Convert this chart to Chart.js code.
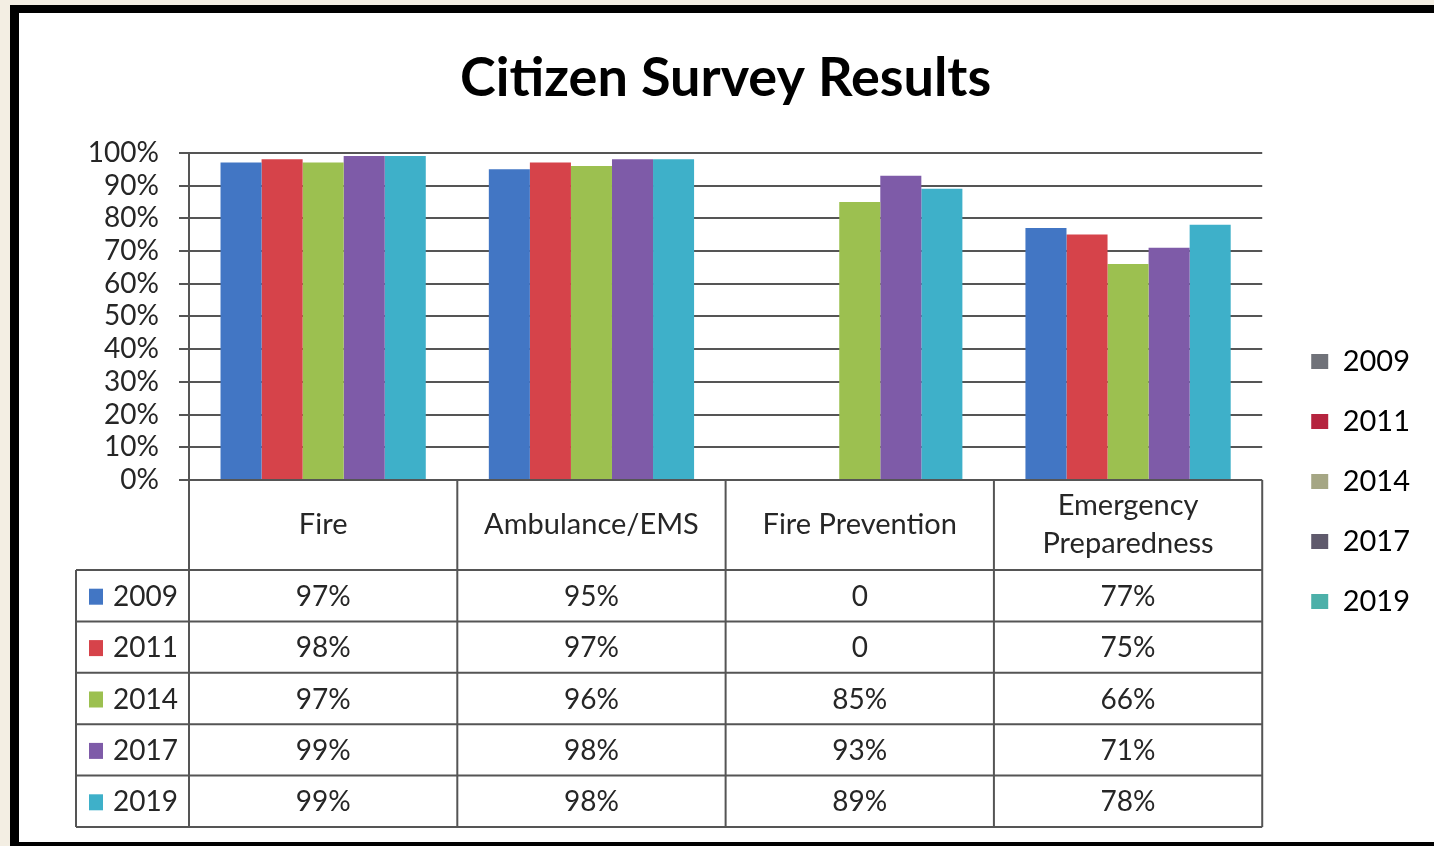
<!DOCTYPE html>
<html>
<head>
<meta charset="utf-8">
<title>Citizen Survey Results</title>
<script src="https://cdn.jsdelivr.net/npm/chart.js@4.4.1/dist/chart.umd.min.js"></script>
<style>
  html, body { margin: 0; padding: 0; background: #f3eee3; }
  #frame {
    position: absolute; left: 10px; top: 5px; width: 1415px; height: 829px;
    background: #fff; border-left: 9px solid #000; border-top: 8px solid #000; border-bottom: 4px solid #000;
  }
  #wrap { position: absolute; left: 0; top: 0; width: 1434px; height: 846px; }
</style>
</head>
<body>
<div id="frame"></div>
<div id="wrap"><canvas id="surveyChart"></canvas></div>
<script>
  const categories = ["Fire", "Ambulance/EMS", "Fire Prevention", ["Emergency", "Preparedness"]];
  const years = ["2009", "2011", "2014", "2017", "2019"];
  const values2009 = [97, 95, 0, 77];
  const values2011 = [98, 97, 0, 75];
  const values2014 = [97, 96, 85, 66];
  const values2017 = [99, 98, 93, 71];
  const values2019 = [99, 98, 89, 78];
  const yTicks = [0, 10, 20, 30, 40, 50, 60, 70, 80, 90, 100];

  const seriesValues = [values2009, values2011, values2014, values2017, values2019];
  const barColors = ["#4276c4", "#d6434a", "#9cc050", "#7e5ba8", "#3eb0c9"];
  // the legend swatches in the original came out oddly tinted
  const legendColors = ["#707279", "#b5243f", "#a5a684", "#5f5a6c", "#4cb0a9"];

  const FONT = "Lato, 'Open Sans', sans-serif";
  const lineColor = "#555";
  const textColor = "#262626";

  const tablePlugin = {
    id: "dataTable",
    afterDraw(chart) {
      const { ctx, chartArea, scales: { x } } = chart;
      const step = (chartArea.right - chartArea.left) / categories.length;
      const top = chartArea.bottom;
      const headBottom = top + 90;
      const rowH = 51.4;
      const outerLeft = 76;
      const bottom = headBottom + rowH * years.length;
      const colEdges = categories.map((c, i) => x.getPixelForValue(i) - step / 2);
      colEdges.push(chartArea.right);

      ctx.save();
      ctx.strokeStyle = lineColor;
      ctx.lineWidth = 2;
      ctx.beginPath();
      colEdges.forEach(px => { ctx.moveTo(px, top); ctx.lineTo(px, bottom); });
      ctx.moveTo(outerLeft, headBottom); ctx.lineTo(outerLeft, bottom);
      for (let r = 0; r <= years.length; r++) {
        const yy = headBottom + r * rowH;
        ctx.moveTo(outerLeft, yy); ctx.lineTo(chartArea.right, yy);
      }
      ctx.stroke();

      ctx.fillStyle = textColor;
      ctx.font = "29px " + FONT;
      ctx.textAlign = "center";
      ctx.textBaseline = "middle";
      categories.forEach((c, i) => {
        const cx = x.getPixelForValue(i);
        const lines = Array.isArray(c) ? c : [c];
        const mid = (top + headBottom) / 2;
        lines.forEach((ln, k) => {
          ctx.fillText(ln, cx, mid + (k - (lines.length - 1) / 2) * 38);
        });
      });

      ctx.font = "28px " + FONT;
      years.forEach((yr, r) => {
        const cy = headBottom + r * rowH + rowH / 2 + 1;
        ctx.fillStyle = barColors[r];
        ctx.fillRect(89, cy - 8, 14, 16);
        ctx.fillStyle = textColor;
        ctx.textAlign = "left";
        ctx.fillText(yr, 113, cy);
        ctx.textAlign = "center";
        seriesValues[r].forEach((v, i) => {
          ctx.fillText(v === 0 ? "0" : v + "%", x.getPixelForValue(i), cy);
        });
      });
      ctx.restore();
    }
  };

  const ctx = document.getElementById("surveyChart").getContext("2d");

  new Chart(ctx, {
    type: "bar",
    data: {
      labels: categories,
      datasets: years.map((yr, i) => ({
        label: yr,
        data: seriesValues[i],
        backgroundColor: barColors[i],
        borderWidth: 0,
        categoryPercentage: 0.765,
        barPercentage: 1.0
      }))
    },
    options: {
      responsive: true,
      maintainAspectRatio: false,
      animation: false,
      layout: { padding: { left: 0, right: 14, top: 0, bottom: 199 } },
      plugins: {
        title: {
          display: true,
          fullSize: false,
          text: "Citizen Survey Results",
          color: "#000",
          font: { family: FONT, size: 54, weight: "bold", lineHeight: 1.2 },
          padding: { top: 46, bottom: 42 }
        },
        legend: {
          position: "right",
          align: "end",
          labels: {
            color: textColor,
            font: { family: FONT, size: 29 },
            boxWidth: 17,
            boxHeight: 15,
            padding: 31,
            generateLabels(chart) {
              return chart.data.datasets.map((ds, i) => ({
                text: ds.label,
                fillStyle: legendColors[i],
                strokeStyle: legendColors[i],
                lineWidth: 0,
                datasetIndex: i,
                hidden: false
              }));
            }
          }
        },
        tooltip: { enabled: false }
      },
      scales: {
        x: {
          position: "bottom",
          grid: { display: false },
          border: { display: false },
          ticks: { display: false },
          afterFit(scale) { scale.height = 167; }
        },
        y: {
          min: 0,
          max: 100,
          afterBuildTicks(scale) { scale.ticks = yTicks.map(v => ({ value: v })); },
          afterFit(scale) { scale.width = 189; },
          grid: { color: lineColor, lineWidth: 2, tickLength: 10 },
          border: { display: true, color: lineColor, width: 2 },
          ticks: {
            autoSkip: false,
            padding: 20,
            color: textColor,
            font: { family: FONT, size: 28 },
            callback: v => v + "%"
          }
        },
        pad: {
          type: "linear",
          position: "right",
          display: true,
          grid: { display: false },
          border: { display: false },
          ticks: { display: false },
          afterFit(scale) { scale.width = 18; }
        }
      }
    },
    plugins: [tablePlugin]
  });
</script>
</body>
</html>
